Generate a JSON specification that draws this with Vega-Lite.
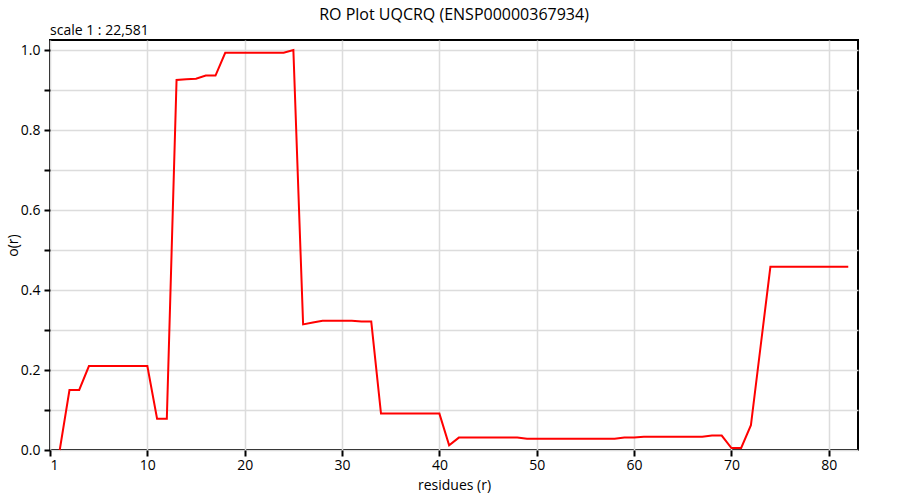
{
  "$schema": "https://vega.github.io/schema/vega-lite/v6.json",
  "width": 808,
  "height": 410,
  "autosize": {"type": "none"},
  "padding": {"left": 50, "top": 40, "right": 42, "bottom": 50},
  "background": "white",
  "config": {
    "font": "Open Sans",
    "view": {"stroke": "black", "strokeWidth": 2},
    "axis": {
      "domain": false,
      "grid": true,
      "gridColor": "#dcdcdc",
      "gridWidth": 1.5,
      "tickColor": "black",
      "tickWidth": 2,
      "tickSize": 6,
      "labelColor": "black",
      "titleFontWeight": "normal",
      "titleColor": "black"
    }
  },
  "title": {
    "text": "RO Plot UQCRQ (ENSP00000367934)",
    "anchor": "middle",
    "frame": "group",
    "fontSize": 16,
    "fontWeight": "normal",
    "font": "Open Sans",
    "color": "black",
    "offset": 1
  },
  "data": {
    "values": [
      {"r": 1, "o": 0.0},
      {"r": 2, "o": 0.15},
      {"r": 3, "o": 0.15},
      {"r": 4, "o": 0.21},
      {"r": 5, "o": 0.21},
      {"r": 6, "o": 0.21},
      {"r": 7, "o": 0.21},
      {"r": 8, "o": 0.21},
      {"r": 9, "o": 0.21},
      {"r": 10, "o": 0.21},
      {"r": 11, "o": 0.078},
      {"r": 12, "o": 0.078},
      {"r": 13, "o": 0.925},
      {"r": 14, "o": 0.927},
      {"r": 15, "o": 0.928},
      {"r": 16, "o": 0.936},
      {"r": 17, "o": 0.936},
      {"r": 18, "o": 0.993},
      {"r": 19, "o": 0.993},
      {"r": 20, "o": 0.993},
      {"r": 21, "o": 0.993},
      {"r": 22, "o": 0.993},
      {"r": 23, "o": 0.993},
      {"r": 24, "o": 0.993},
      {"r": 25, "o": 1.0},
      {"r": 26, "o": 0.314},
      {"r": 27, "o": 0.319},
      {"r": 28, "o": 0.323},
      {"r": 29, "o": 0.323},
      {"r": 30, "o": 0.323},
      {"r": 31, "o": 0.323},
      {"r": 32, "o": 0.321},
      {"r": 33, "o": 0.321},
      {"r": 34, "o": 0.091},
      {"r": 35, "o": 0.091},
      {"r": 36, "o": 0.091},
      {"r": 37, "o": 0.091},
      {"r": 38, "o": 0.091},
      {"r": 39, "o": 0.091},
      {"r": 40, "o": 0.091},
      {"r": 41, "o": 0.012},
      {"r": 42, "o": 0.031},
      {"r": 43, "o": 0.031},
      {"r": 44, "o": 0.031},
      {"r": 45, "o": 0.031},
      {"r": 46, "o": 0.031},
      {"r": 47, "o": 0.031},
      {"r": 48, "o": 0.031},
      {"r": 49, "o": 0.028},
      {"r": 50, "o": 0.028},
      {"r": 51, "o": 0.028},
      {"r": 52, "o": 0.028},
      {"r": 53, "o": 0.028},
      {"r": 54, "o": 0.028},
      {"r": 55, "o": 0.028},
      {"r": 56, "o": 0.028},
      {"r": 57, "o": 0.028},
      {"r": 58, "o": 0.028},
      {"r": 59, "o": 0.031},
      {"r": 60, "o": 0.031},
      {"r": 61, "o": 0.033},
      {"r": 62, "o": 0.033},
      {"r": 63, "o": 0.033},
      {"r": 64, "o": 0.033},
      {"r": 65, "o": 0.033},
      {"r": 66, "o": 0.033},
      {"r": 67, "o": 0.033},
      {"r": 68, "o": 0.036},
      {"r": 69, "o": 0.036},
      {"r": 70, "o": 0.005},
      {"r": 71, "o": 0.005},
      {"r": 72, "o": 0.062},
      {"r": 73, "o": 0.26},
      {"r": 74, "o": 0.458},
      {"r": 75, "o": 0.458},
      {"r": 76, "o": 0.458},
      {"r": 77, "o": 0.458},
      {"r": 78, "o": 0.458},
      {"r": 79, "o": 0.458},
      {"r": 80, "o": 0.458},
      {"r": 81, "o": 0.458},
      {"r": 82, "o": 0.458}
    ]
  },
  "layer": [
    {
      "mark": {"type": "line", "color": "#ff0000", "strokeWidth": 2, "clip": false},
      "encoding": {
        "x": {
          "field": "r",
          "type": "quantitative",
          "scale": {"domain": [0, 83], "nice": false, "zero": false},
          "axis": {
            "title": "residues (r)",
            "values": [0, 10, 20, 30, 40, 50, 60, 70, 80],
            "labelExpr": "datum.value == 0 ? '1' : datum.label",
            "labelFont": "Open Sans",
            "labelFontSize": 14,
            "titleFont": "Open Sans",
            "titleFontSize": 14,
            "labelPadding": 2,
            "titlePadding": 6
          }
        },
        "y": {
          "field": "o",
          "type": "quantitative",
          "scale": {"domain": [0, 1.025], "nice": false, "zero": false},
          "axis": {
            "title": "o(r)",
            "values": [0, 0.1, 0.2, 0.3, 0.4, 0.5, 0.6, 0.7, 0.8, 0.9, 1.0],
            "format": ".1f",
            "labelExpr": "(round(datum.value * 10) % 2 == 0) ? datum.label : ''",
            "labelFont": "Open Sans",
            "labelFontSize": 14,
            "titleFont": "Open Sans",
            "titleFontSize": 14,
            "labelPadding": 4,
            "titlePadding": 0
          }
        }
      }
    },
    {
      "data": {"values": [{"r": 0, "o": 1.025, "label": "scale 1 : 22,581"}]},
      "mark": {
        "type": "text",
        "align": "left",
        "baseline": "bottom",
        "dy": -2,
        "fontSize": 14,
        "font": "Open Sans",
        "color": "black",
        "clip": false
      },
      "encoding": {
        "x": {"field": "r", "type": "quantitative"},
        "y": {"field": "o", "type": "quantitative"},
        "text": {"field": "label"}
      }
    }
  ]
}
